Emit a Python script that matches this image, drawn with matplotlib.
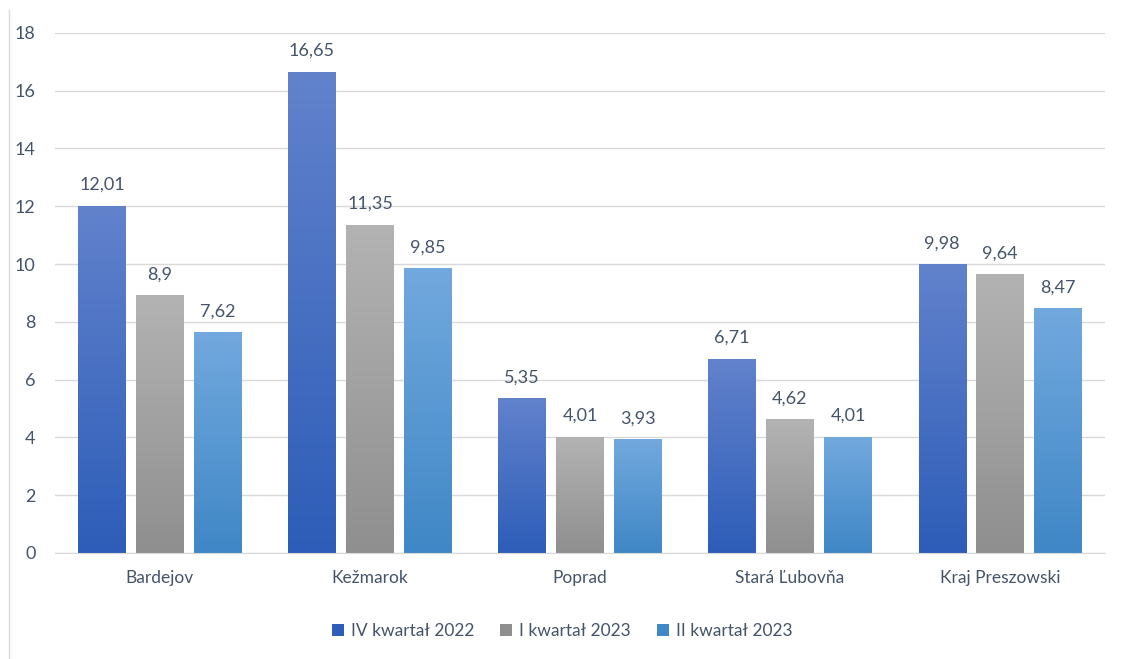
import numpy as np
import matplotlib.pyplot as plt
from matplotlib.colors import LinearSegmentedColormap
from matplotlib.patches import Patch
from matplotlib.lines import Line2D

categories = ["Bardejov", "Kežmarok", "Poprad", "Stará Ľubovňa", "Kraj Preszowski"]
series_names = ["IV kwartał 2022", "I kwartał 2023", "II kwartał 2023"]
q4_2022 = [12.01, 16.65, 5.35, 6.71, 9.98]
q1_2023 = [8.9, 11.35, 4.01, 4.62, 9.64]
q2_2023 = [7.62, 9.85, 3.93, 4.01, 8.47]
y_ticks = [0, 2, 4, 6, 8, 10, 12, 14, 16, 18]

# top colour, bottom colour for each series
grads = [("#6282cc", "#2d5db8"), ("#b3b3b3", "#8f8f8f"), ("#72a9de", "#3f87c6")]
txt = "#44546a"

plt.rcParams["font.family"] = ["Lato", "DejaVu Sans"]

fig = plt.figure(figsize=(11.31, 6.59), dpi=100)
ax = fig.add_axes([0.0486, 0.161, 0.9284, 0.789])

x = np.arange(len(categories))
width = 0.224
step = 0.276
grad = np.linspace(1, 0, 256).reshape(-1, 1)

for i, vals in enumerate([q4_2022, q1_2023, q2_2023]):
    cmap = LinearSegmentedColormap.from_list("g%d" % i, [grads[i][1], grads[i][0]])
    pos = x + (i - 1) * step
    bars = ax.bar(pos, vals, width, color="none", edgecolor="none", zorder=2)
    for b, v in zip(bars, vals):
        x0 = b.get_x()
        ax.imshow(grad, cmap=cmap, aspect="auto", zorder=2,
                  extent=[x0, x0 + b.get_width(), 0, v], interpolation="bicubic")
        ax.text(b.get_x() + b.get_width() / 2, v + 0.45, ("%g" % v).replace(".", ","),
                ha="center", va="bottom", fontsize=13, color=txt)

ax.set_xlim(-0.5, len(categories) - 0.5)
ax.set_ylim(0, 18)
ax.set_yticks(y_ticks)
ax.set_xticks(x)
ax.set_xticklabels(categories)
ax.tick_params(axis="both", length=0, labelsize=12.5, colors=txt)
ax.tick_params(axis="y", pad=14, labelsize=13)
ax.tick_params(axis="x", pad=12)
ax.grid(axis="y", color="#d9d9d9", lw=1, zorder=0)
ax.set_axisbelow(True)
for s in ["top", "right", "left"]:
    ax.spines[s].set_visible(False)
ax.spines["bottom"].set_color("#d9d9d9")

handles = [Patch(facecolor=grads[i][1], edgecolor="none") for i in range(3)]
fig.legend(handles, series_names, loc="center", bbox_to_anchor=(0.497, 0.043), ncol=3,
           frameon=False, fontsize=12.5, labelcolor=txt, handlelength=0.7, handleheight=0.7,
           columnspacing=1.5, handletextpad=0.4)

fig.add_artist(Line2D([0.008, 0.008], [0.0, 0.985], color="#d9d9d9", lw=1))

fig.savefig("out.png", dpi=100)
